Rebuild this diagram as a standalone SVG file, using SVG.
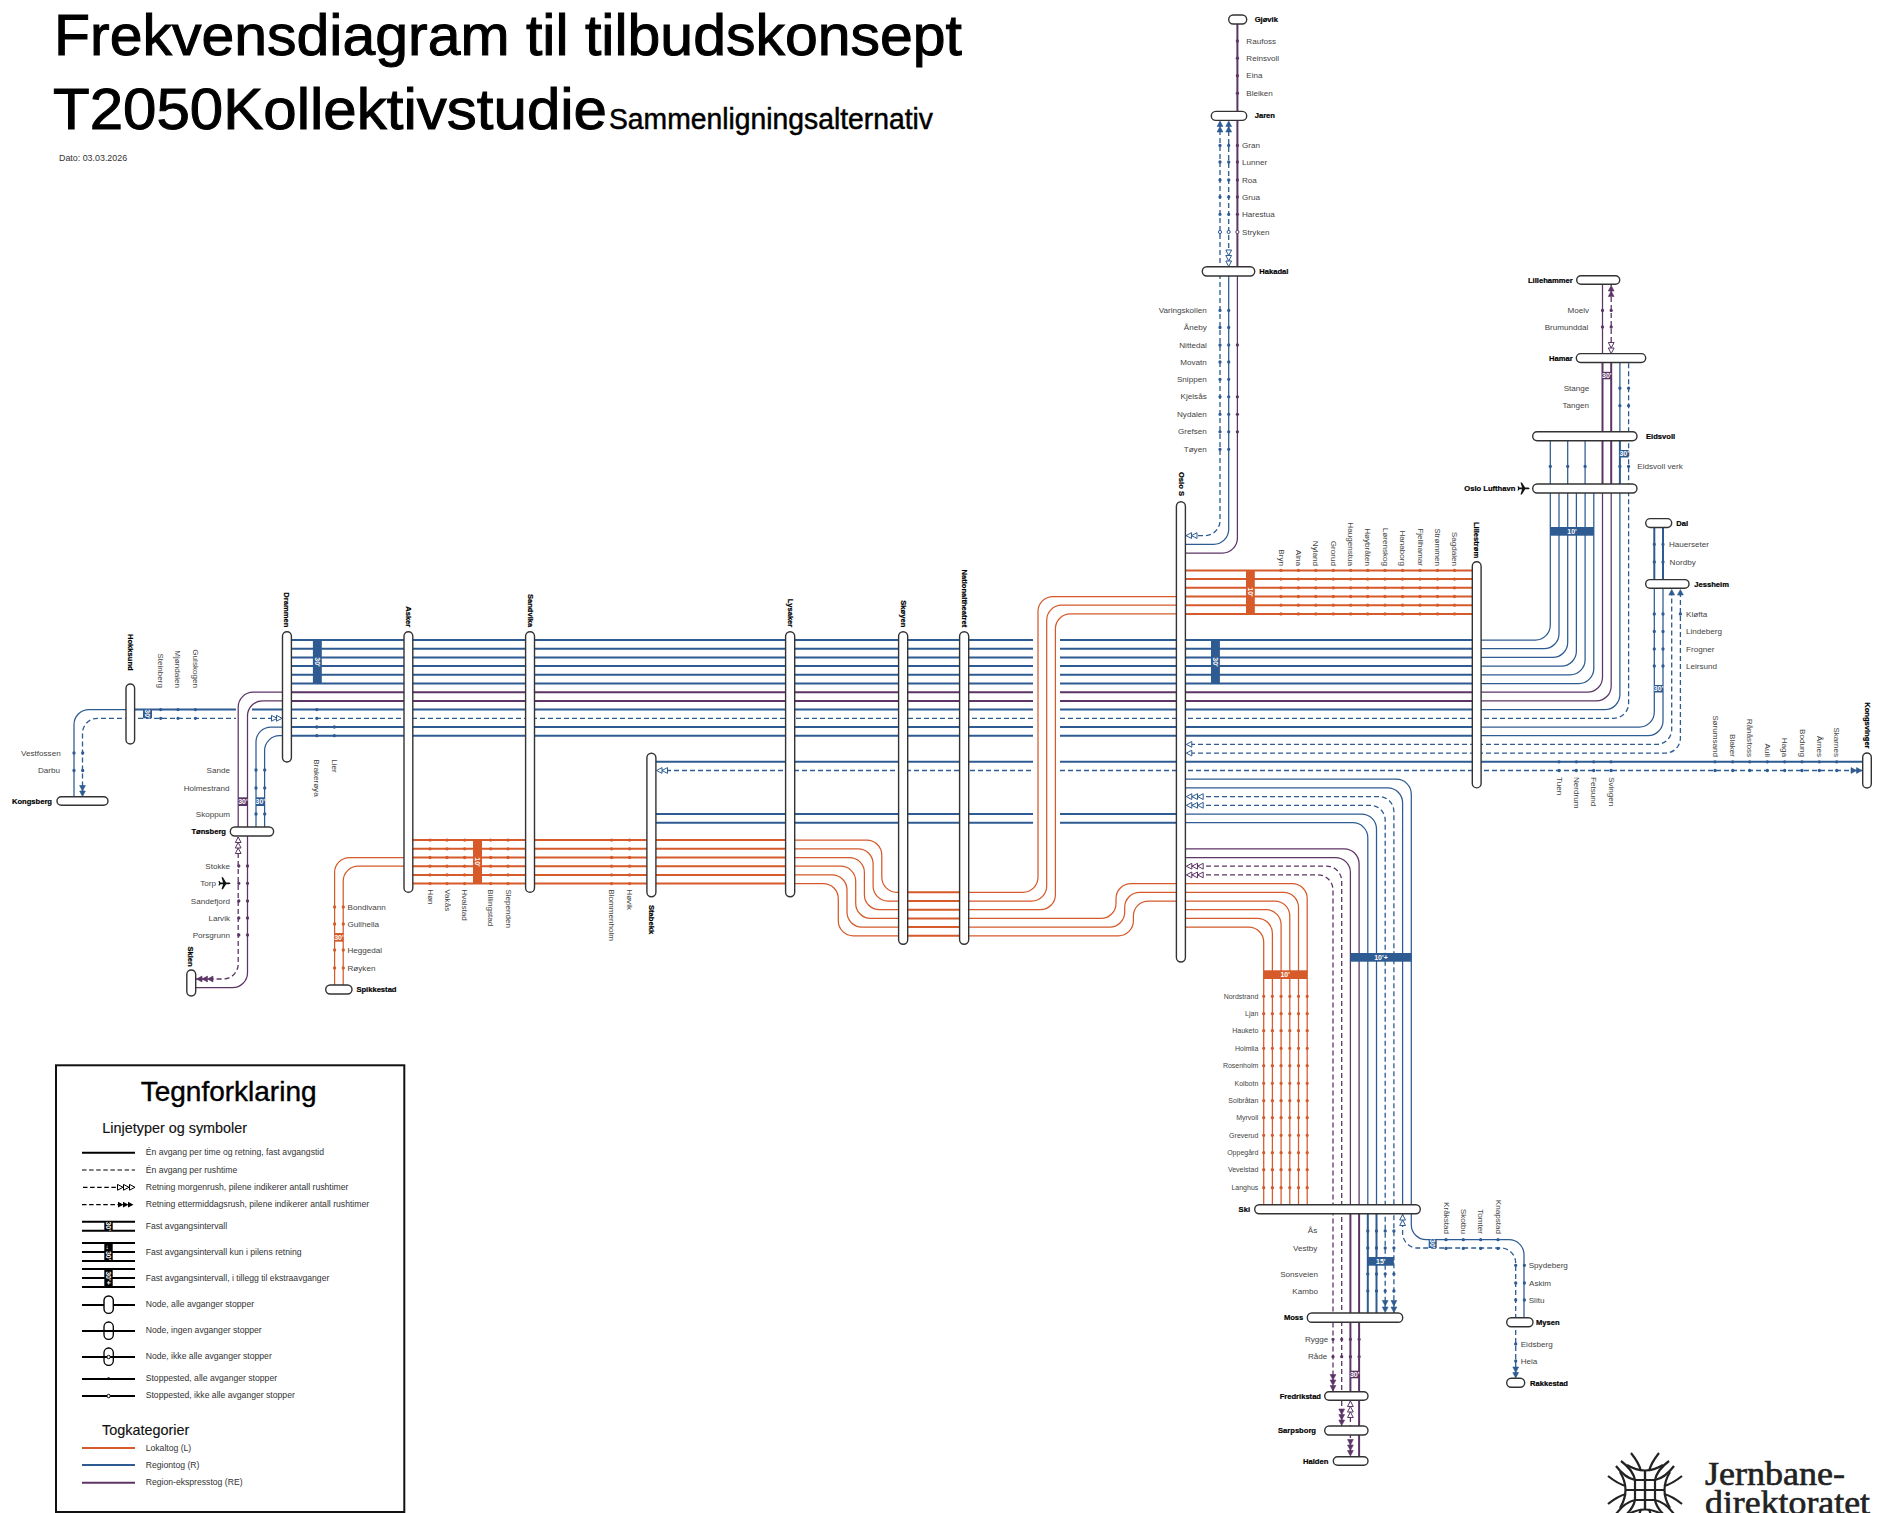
<svg xmlns="http://www.w3.org/2000/svg" width="1886" height="1513" viewBox="0 0 1886 1513">
<style>
text{font-family:"Liberation Sans",Arial,sans-serif;dominant-baseline:central}
.l{font-size:8.1px;fill:#444}
.l7{font-size:7px;fill:#444}
.b{font-size:7.6px;font-weight:700;fill:#000;stroke:#000;stroke-width:.2}
.e{text-anchor:end}
.m{text-anchor:middle}
.t{font-size:7px;font-weight:700;fill:#fff;text-anchor:middle}
.lg{font-size:8.65px;fill:#333}
.h{font-size:14.4px;fill:#111;stroke:#111;stroke-width:.15}
.ttl{font-size:58px;fill:#000;dominant-baseline:auto;stroke:#000;stroke-width:1}
.n{fill:#fff;stroke:#333;stroke-width:1.4}
.B{stroke:#2e5b91}.P{stroke:#5c3566}.O{stroke:#d65a2a}
.w{stroke-width:2;fill:none}
.s{stroke-width:1.25;fill:none}
.d{stroke-width:1.3;fill:none;stroke-dasharray:5 3}
.dB,.dP,.dO{stroke-width:3.3;stroke-linecap:round;fill:none}
.dB{stroke:#2e5b91}.dP{stroke:#5c3566}.dO{stroke:#d65a2a}
.oB,.oP{fill:#fff;stroke-width:1}
.oB{stroke:#2e5b91}.oP{stroke:#5c3566}
.aB{fill:#2e5b91;stroke:#2e5b91;stroke-width:.6}
.aP{fill:#5c3566;stroke:#5c3566;stroke-width:.6}
.hB{fill:#fff;stroke:#2e5b91;stroke-width:1}
.hP{fill:#fff;stroke:#5c3566;stroke-width:1}
.fB{fill:#2e5b91}.fP{fill:#5c3566}.fO{fill:#d65a2a}
.k{stroke:#000;stroke-width:2;fill:none}
</style>
<defs>
<path id="a" d="M0 0L-5.5 -2.9V2.9Z"/>
<path id="v2" d="M0 0h0m0 8.7h0"/>
<path id="v4" d="M0 0h0m0 8.7h0m0 8.7h0m0 8.7h0"/>
<path id="v6" d="M0 0h0m0 8.7h0m0 8.7h0m0 8.7h0m0 8.7h0m0 8.7h0"/>
<path id="h2" d="M0 0h0m8.7 0h0"/>
<path id="h4" d="M0 0h0m8.7 0h0m8.7 0h0m8.7 0h0"/>
<path id="h6" d="M0 0h0m8.7 0h0m8.7 0h0m8.7 0h0m8.7 0h0m8.7 0h0"/>
<path id="plane" d="M6 0C6 -.7 5 -.9 4 -.9H1.6L-1.6 -6H-3L-1.4 -.9H-4L-5 -2.2H-6L-5.4 0L-6 2.2H-5L-4 .9H-1.4L-3 6H-1.6L1.6 .9H4C5 .9 6 .7 6 0Z"/>
</defs>
<rect width="1886" height="1513" fill="#fff"/>

<g id="title">
<text class="ttl" x="54" y="55" textLength="908" lengthAdjust="spacingAndGlyphs">Frekvensdiagram til tilbudskonsept</text>
<text class="ttl" x="53" y="129" textLength="554" lengthAdjust="spacingAndGlyphs">T2050Kollektivstudie</text>
<text class="ttl" x="609" y="129" style="font-size:29px;stroke-width:.5" textLength="324" lengthAdjust="spacingAndGlyphs">Sammenligningsalternativ</text>
<text x="59" y="158" style="font-size:8.9px;fill:#333">Dato: 03.03.2026</text>
</g>

<g id="connectors">
<path class="w B" d="M287 640H1033M1060 640H1476M287 648.7H1033M1060 648.7H1476M287 657.4H1033M1060 657.4H1476M287 666.1H1033M1060 666.1H1476M287 674.8H1033M1060 674.8H1476M287 683.5H1033M1060 683.5H1476"/>
<path class="w P" d="M287 692.2H1033M1060 692.2H1476M287 700.9H1033M1060 700.9H1476"/>
<path class="w B" d="M130 709.6H236M252 709.6H1033M1060 709.6H1476M287 727H1033M1060 727H1476M287 735.7H1033M1060 735.7H1476"/>
<path class="d B" d="M130 718.3H236M252 718.3H1033M1060 718.3H1476"/>
<path class="w B" d="M650 761.8H1033M1060 761.8H1867M650 814H1033M1060 814H1180M650 822.7H1033M1060 822.7H1180"/>
<path class="d B" d="M650 770.5H1033M1060 770.5H1867"/>
<path class="s B" d="M1476 640H1535.3A15 15 0 0 0 1550.3 625V436M1476 648.7H1544A15 15 0 0 0 1559 633.7V488M1476 657.4H1552.7A15 15 0 0 0 1567.7 642.4V436M1476 666.1H1561.4A15 15 0 0 0 1576.4 651.1V488M1476 674.8H1570.1A15 15 0 0 0 1585.1 659.8V436M1476 683.5H1578.8A15 15 0 0 0 1593.8 668.5V488"/>
<path class="s P" d="M1476 692.2H1587.5A15 15 0 0 0 1602.5 677.2V488M1476 700.9H1596.2A15 15 0 0 0 1611.2 685.9V488"/>
<path class="s B" d="M1476 709.6H1604.9A15 15 0 0 0 1619.9 694.6V488"/>
<path class="d B" d="M1476 718.3H1613.6A15 15 0 0 0 1628.6 703.3V358"/>
<path class="s B" d="M1476 727H1639.3A15 15 0 0 0 1654.3 712V584M1476 735.7H1648A15 15 0 0 0 1663 720.7V584"/>
<path class="d B" d="M1190 744.4H1656.7A15 15 0 0 0 1671.7 729.4V590M1190 753.1H1665.4A15 15 0 0 0 1680.4 738.1V590"/>
<path class="w P" d="M1602.5 488V358M1611.2 488V358"/>
<path class="w B" d="M1619.9 488V436"/>
<path class="s B" d="M1619.9 436V358"/>
<path class="s P" d="M1602.5 358V280"/>
<path class="d P" d="M1611.2 358V285"/>
<path class="w B" d="M1654.3 584V523M1663 584V523"/>
<path class="s B" d="M130 709.6H89A15 15 0 0 0 74 724.6V800"/>
<path class="d B" d="M130 718.3H97.5A15 15 0 0 0 82.5 733.3V797"/>
<path class="s P" d="M287 692.2H253.2A15 15 0 0 0 238.2 707.2V832M287 700.9H262.5A15 15 0 0 0 247.5 715.9V972.7A15 15 0 0 1 232.5 987.7H191"/>
<path class="d P" d="M238.2 837V964A15 15 0 0 1 223.2 979H196"/>
<path class="s B" d="M287 727H271A15 15 0 0 0 256 742V832M287 735.7H279.6A15 15 0 0 0 264.6 750.7V832"/>
<path class="w O" d="M408 840.1H790M408 848.8H790M408 857.5H790M408 866.2H790M408 874.9H790M408 883.6H790"/>
<path class="s O" d="M408 857.5H349.6A15 15 0 0 0 334.6 872.5V990M408 866.2H358.2A15 15 0 0 0 343.2 881.2V990"/>
<path class="s O" d="M790 840.1H866.8A15 15 0 0 1 881.8 855.1V877.3A15 15 0 0 0 896.8 892.3H903M963 892.3H1023A15 15 0 0 0 1038 877.3V611.5A15 15 0 0 1 1053 596.5H1180M790 848.8H858.1A15 15 0 0 1 873.1 863.8V886A15 15 0 0 0 888.1 901H903M963 901H1031.7A15 15 0 0 0 1046.7 886V620.2A15 15 0 0 1 1061.7 605.2H1180M790 857.5H849.4A15 15 0 0 1 864.4 872.5V894.7A15 15 0 0 0 879.4 909.7H903M963 909.7H1040.4A15 15 0 0 0 1055.4 894.7V628.9A15 15 0 0 1 1070.4 613.9H1180M790 866.2H840.7A15 15 0 0 1 855.7 881.2V903.4A15 15 0 0 0 870.7 918.4H903M963 918.4H1101A15 15 0 0 0 1116 903.4V898.6A15 15 0 0 1 1131 883.6H1180M790 874.9H832A15 15 0 0 1 847 889.9V912.1A15 15 0 0 0 862 927.1H903M963 927.1H1109.7A15 15 0 0 0 1124.7 912.1V907.3A15 15 0 0 1 1139.7 892.3H1180M790 883.6H823.3A15 15 0 0 1 838.3 898.6V920.8A15 15 0 0 0 853.3 935.8H903M963 935.8H1118.4A15 15 0 0 0 1133.4 920.8V916A15 15 0 0 1 1148.4 901H1180"/>
<path class="w O" d="M903 892.3H963M903 901H963M903 909.7H963M903 918.4H963M903 927.1H963M903 935.8H963"/>
<path class="w O" d="M1181 570.4H1476M1181 579.1H1476M1181 587.8H1476M1181 596.5H1476M1181 605.2H1476M1181 613.9H1476"/>
<path class="d B" d="M1190 535.6H1205A15 15 0 0 0 1220 520.6V116"/>
<path class="s B" d="M1181 544.3H1213.7A15 15 0 0 0 1228.7 529.3V272"/>
<path class="d B" d="M1228.7 272V116"/>
<path class="s P" d="M1181 553H1222.4A15 15 0 0 0 1237.4 538V272"/>
<path class="w P" d="M1237.4 272V20"/>
<path class="s O" d="M1181 883.6H1292.2A15 15 0 0 1 1307.2 898.6V1209M1181 892.3H1283.5A15 15 0 0 1 1298.5 907.3V1209M1181 901H1274.8A15 15 0 0 1 1289.8 916V1209M1181 909.7H1266.1A15 15 0 0 1 1281.1 924.7V1209M1181 918.4H1257.4A15 15 0 0 1 1272.4 933.4V1209M1181 927.1H1248.7A15 15 0 0 1 1263.7 942.1V1209"/>
<path class="s B" d="M1181 779.2H1396.3A15 15 0 0 1 1411.3 794.2V1224.7A15 15 0 0 0 1426.3 1239.7H1509A15 15 0 0 1 1524 1254.7V1322M1181 787.9H1387.6A15 15 0 0 1 1402.6 802.9V1209M1181 814H1361.5A15 15 0 0 1 1376.5 829V1209M1181 822.7H1352.8A15 15 0 0 1 1367.8 837.7V1209"/>
<path class="d B" d="M1190 796.6H1378.9A15 15 0 0 1 1393.9 811.6V1313M1190 805.3H1370.2A15 15 0 0 1 1385.2 820.3V1313"/>
<path class="d B" d="M1402.6 1214V1233A15 15 0 0 0 1417.6 1248H1500.7A15 15 0 0 1 1515.7 1263V1379"/>
<path class="w B" d="M1376.5 1209V1317M1367.8 1209V1317"/>
<path class="s P" d="M1181 848.8H1344.1A15 15 0 0 1 1359.1 863.8V1209M1181 857.5H1335.4A15 15 0 0 1 1350.4 872.5V1209"/>
<path class="d P" d="M1190 866.2H1326.7A15 15 0 0 1 1341.7 881.2V1426M1190 874.9H1318A15 15 0 0 1 1333 889.9V1391M1350.4 1401V1457"/>
<path class="w P" d="M1359.1 1209V1461M1350.4 1209V1396"/>
</g>

<g id="intervals">
<rect class="fB" x="143" y="709.6" width="9" height="8.7"/><text class="t" transform="rotate(90 147.5 714)" x="147.5" y="714">30'</text>
<rect class="fB" x="312.9" y="640" width="8.9" height="43.5"/><text class="t" transform="rotate(90 317.4 662)" x="317.4" y="662">30'</text>
<rect class="fB" x="1211" y="640" width="8.9" height="43.5"/><text class="t" transform="rotate(90 1215.5 662)" x="1215.5" y="662">30'</text>
<rect class="fO" x="1246" y="570.4" width="8.8" height="43.5"/><text class="t" transform="rotate(90 1250.4 592)" x="1250.4" y="592">10'</text>
<rect class="fO" x="473" y="840.1" width="9" height="43.5"/><text class="t" transform="rotate(90 477.5 862)" x="477.5" y="862">10'</text>
<rect class="fP" x="238.2" y="797.3" width="9.3" height="8.7"/><text class="t" x="242.9" y="801.6">30'</text>
<rect class="fB" x="256" y="797.3" width="8.6" height="8.7"/><text class="t" x="260.3" y="801.6">30'</text>
<rect class="fO" x="334.6" y="933" width="8.6" height="8.7"/><text class="t" x="338.9" y="937.3">30'</text>
<rect class="fB" x="1550.3" y="527" width="43.5" height="8.7"/><text class="t" x="1572" y="531.3">10'</text>
<rect class="fB" x="1619.9" y="450" width="8.7" height="7.5"/><text class="t" x="1624.2" y="453.7">30'</text>
<rect class="fP" x="1602.5" y="371.8" width="8.7" height="7.5"/><text class="t" x="1606.8" y="375.5">30'</text>
<rect class="fB" x="1654.3" y="685" width="8.7" height="7.5"/><text class="t" x="1658.6" y="688.7">30'</text>
<rect class="fO" x="1263.2" y="970.3" width="44" height="8.7"/><text class="t" x="1285.2" y="974.6">10'</text>
<rect class="fB" x="1350.4" y="953" width="61" height="8.7"/><text class="t" x="1381" y="957.3">10'+</text>
<rect class="fB" x="1367.8" y="1257" width="26.1" height="8.7"/><text class="t" x="1380.8" y="1261.3">15'</text>
<rect class="fB" x="1428.7" y="1239.7" width="8" height="8.3"/><text class="t" transform="rotate(90 1432.7 1243.8)" x="1432.7" y="1243.8">30'</text>
<rect class="fP" x="1350.4" y="1370.7" width="8.7" height="7.6"/><text class="t" x="1354.7" y="1374.5">30'</text>
</g>

<g id="arrows">
<use href="#a" class="hB" transform="translate(282 718.3)"/><use href="#a" class="hB" transform="translate(277 718.3)"/>
<use href="#a" class="aB" transform="translate(82.5 796.5) rotate(90)"/><use href="#a" class="aB" transform="translate(82.5 791) rotate(90)"/>
<use href="#a" class="hP" transform="translate(238.2 837) rotate(-90)"/><use href="#a" class="hP" transform="translate(238.2 842.5) rotate(-90)"/><use href="#a" class="hP" transform="translate(238.2 848) rotate(-90)"/>
<use href="#a" class="aP" transform="translate(196.5 979) rotate(180)"/><use href="#a" class="aP" transform="translate(202 979) rotate(180)"/><use href="#a" class="aP" transform="translate(207.5 979) rotate(180)"/>
<use href="#a" class="hB" transform="translate(656.5 770.5) rotate(180)"/><use href="#a" class="hB" transform="translate(662 770.5) rotate(180)"/>
<use href="#a" class="hB" transform="translate(1186 535.6) rotate(180)"/><use href="#a" class="hB" transform="translate(1191.5 535.6) rotate(180)"/>
<use href="#a" class="hB" transform="translate(1186.3 744.4) rotate(180)"/><use href="#a" class="hB" transform="translate(1186.3 753.1) rotate(180)"/>
<use href="#a" class="hB" transform="translate(1186.3 796.6) rotate(180)"/><use href="#a" class="hB" transform="translate(1192 796.6) rotate(180)"/><use href="#a" class="hB" transform="translate(1197.7 796.6) rotate(180)"/>
<use href="#a" class="hB" transform="translate(1186.3 805.3) rotate(180)"/><use href="#a" class="hB" transform="translate(1192 805.3) rotate(180)"/><use href="#a" class="hB" transform="translate(1197.7 805.3) rotate(180)"/>
<use href="#a" class="hP" transform="translate(1186.3 866.2) rotate(180)"/><use href="#a" class="hP" transform="translate(1192 866.2) rotate(180)"/><use href="#a" class="hP" transform="translate(1197.7 866.2) rotate(180)"/>
<use href="#a" class="hP" transform="translate(1186.3 874.9) rotate(180)"/><use href="#a" class="hP" transform="translate(1192 874.9) rotate(180)"/><use href="#a" class="hP" transform="translate(1197.7 874.9) rotate(180)"/>
<use href="#a" class="aB" transform="translate(1220 121) rotate(-90)"/><use href="#a" class="aB" transform="translate(1220 126.5) rotate(-90)"/>
<use href="#a" class="aB" transform="translate(1228.7 121) rotate(-90)"/><use href="#a" class="aB" transform="translate(1228.7 126.5) rotate(-90)"/>
<use href="#a" class="hB" transform="translate(1228.7 266.5) rotate(90)"/><use href="#a" class="hB" transform="translate(1228.7 261) rotate(90)"/><use href="#a" class="hB" transform="translate(1228.7 255.5) rotate(90)"/>
<use href="#a" class="aP" transform="translate(1611.2 285.5) rotate(-90)"/><use href="#a" class="aP" transform="translate(1611.2 291) rotate(-90)"/>
<use href="#a" class="hP" transform="translate(1611.2 353.5) rotate(90)"/><use href="#a" class="hP" transform="translate(1611.2 348) rotate(90)"/>
<use href="#a" class="aB" transform="translate(1671.7 589.5) rotate(-90)"/><use href="#a" class="aB" transform="translate(1680.4 589.5) rotate(-90)"/>
<use href="#a" class="aB" transform="translate(1862 770.5)"/><use href="#a" class="aB" transform="translate(1856.5 770.5)"/>
<use href="#a" class="hB" transform="translate(1402.6 1214.5) rotate(-90)"/><use href="#a" class="hB" transform="translate(1402.6 1220) rotate(-90)"/>
<use href="#a" class="aB" transform="translate(1385.2 1312.5) rotate(90)"/><use href="#a" class="aB" transform="translate(1385.2 1306) rotate(90)"/>
<use href="#a" class="aB" transform="translate(1393.9 1312.5) rotate(90)"/><use href="#a" class="aB" transform="translate(1393.9 1306) rotate(90)"/>
<use href="#a" class="aP" transform="translate(1333 1391) rotate(90)"/><use href="#a" class="aP" transform="translate(1333 1385.5) rotate(90)"/><use href="#a" class="aP" transform="translate(1333 1380) rotate(90)"/>
<use href="#a" class="aP" transform="translate(1341.7 1425.5) rotate(90)"/><use href="#a" class="aP" transform="translate(1341.7 1420) rotate(90)"/><use href="#a" class="aP" transform="translate(1341.7 1414.5) rotate(90)"/>
<use href="#a" class="hP" transform="translate(1350.4 1401) rotate(-90)"/><use href="#a" class="hP" transform="translate(1350.4 1406.5) rotate(-90)"/><use href="#a" class="hP" transform="translate(1350.4 1412) rotate(-90)"/>
<use href="#a" class="aP" transform="translate(1350.4 1456) rotate(90)"/><use href="#a" class="aP" transform="translate(1350.4 1450.5) rotate(90)"/><use href="#a" class="aP" transform="translate(1350.4 1445) rotate(90)"/>
<use href="#a" class="aB" transform="translate(1515.7 1378) rotate(90)"/><use href="#a" class="aB" transform="translate(1515.7 1372.5) rotate(90)"/>
</g>

<g id="stops">
<g id="s-vestfossen"><use href="#h2" x="74" y="753" class="dB"/><text class="l e" x="60.7" y="753">Vestfossen</text></g>
<g id="s-darbu"><use href="#h2" x="74" y="770.5" class="dB"/><text class="l e" x="60" y="770.5">Darbu</text></g>
<g id="s-steinberg"><use href="#v2" x="160.7" y="709.6" class="dB"/><text class="l e" transform="rotate(90 160.4 688)" x="160.4" y="688">Steinberg</text></g>
<g id="s-mjondalen"><use href="#v2" x="178" y="709.6" class="dB"/><text class="l e" transform="rotate(90 177 688)" x="177" y="688">Mjøndalen</text></g>
<g id="s-gulskogen"><use href="#v2" x="195.4" y="709.6" class="dB"/><text class="l e" transform="rotate(90 195 688)" x="195" y="688">Gulskogen</text></g>
<g id="s-brakeroya"><use href="#v4" x="316.8" y="709.6" class="dB"/><text class="l" transform="rotate(90 316 759.3)" x="316" y="759.3">Brakerøya</text></g>
<g id="s-lier"><use href="#v2" x="334.3" y="727" class="dB"/><text class="l" transform="rotate(90 334 759.3)" x="334" y="759.3">Lier</text></g>
<g id="s-sande"><use href="#h2" x="256" y="770" class="dB"/><text class="l e" x="230" y="770">Sande</text></g>
<g id="s-holmestrand"><use href="#h2" x="256" y="788" class="dB"/><text class="l e" x="229.6" y="788">Holmestrand</text></g>
<g id="s-skoppum"><use href="#h2" x="256" y="814" class="dB"/><text class="l e" x="230" y="814">Skoppum</text></g>
<g id="s-stokke"><use href="#h2" x="238.8" y="866" class="dP"/><text class="l e" x="230" y="866">Stokke</text></g>
<g id="s-torp"><use href="#h2" x="238.8" y="883.3" class="dP"/><text class="l e" x="216" y="883.3">Torp</text><use href="#plane" x="224.5" y="883.3" fill="#111"/></g>
<g id="s-sandefjord"><use href="#h2" x="238.8" y="901" class="dP"/><text class="l e" x="230" y="901">Sandefjord</text></g>
<g id="s-larvik"><use href="#h2" x="238.8" y="918" class="dP"/><text class="l e" x="230" y="918">Larvik</text></g>
<g id="s-porsgrunn"><use href="#h2" x="238.8" y="935" class="dP"/><text class="l e" x="230" y="935">Porsgrunn</text></g>
<g id="s-bondivann"><use href="#h2" x="334.6" y="907" class="dO"/><text class="l" x="347.5" y="907">Bondivann</text></g>
<g id="s-gullhella"><use href="#h2" x="334.6" y="924" class="dO"/><text class="l" x="347.5" y="924">Gullhella</text></g>
<g id="s-heggedal"><use href="#h2" x="334.6" y="950" class="dO"/><text class="l" x="347.5" y="950">Heggedal</text></g>
<g id="s-royken"><use href="#h2" x="334.6" y="968" class="dO"/><text class="l" x="347.5" y="968">Røyken</text></g>
<g id="s-hon"><use href="#v6" x="430" y="840.1" class="dO"/><text class="l" transform="rotate(90 430 889.3)" x="430" y="889.3">Høn</text></g>
<g id="s-vakas"><use href="#v6" x="447" y="840.1" class="dO"/><text class="l" transform="rotate(90 447 889.3)" x="447" y="889.3">Vakås</text></g>
<g id="s-hvalstad"><use href="#v6" x="464.6" y="840.1" class="dO"/><text class="l" transform="rotate(90 464.6 889.3)" x="464.6" y="889.3">Hvalstad</text></g>
<g id="s-billingstad"><use href="#v6" x="490.7" y="840.1" class="dO"/><text class="l" transform="rotate(90 490.7 889.3)" x="490.7" y="889.3">Billingstad</text></g>
<g id="s-slependen"><use href="#v6" x="508" y="840.1" class="dO"/><text class="l" transform="rotate(90 508 889.3)" x="508" y="889.3">Slependen</text></g>
<g id="s-blommenholm"><use href="#v6" x="611.6" y="840.1" class="dO"/><text class="l" transform="rotate(90 611.6 889.3)" x="611.6" y="889.3">Blommenholm</text></g>
<g id="s-hovik"><use href="#v6" x="629.6" y="840.1" class="dO"/><text class="l" transform="rotate(90 629.6 889.3)" x="629.6" y="889.3">Høvik</text></g>
<g id="s-bryn"><use href="#v6" x="1281" y="570.4" class="dO"/><text class="l e" transform="rotate(90 1281 566)" x="1281" y="566">Bryn</text></g>
<g id="s-alna"><use href="#v6" x="1298.4" y="570.4" class="dO"/><text class="l e" transform="rotate(90 1298.4 566)" x="1298.4" y="566">Alna</text></g>
<g id="s-nyland"><use href="#v6" x="1315.8" y="570.4" class="dO"/><text class="l e" transform="rotate(90 1315.8 566)" x="1315.8" y="566">Nyland</text></g>
<g id="s-grorud"><use href="#v6" x="1333.3" y="570.4" class="dO"/><text class="l e" transform="rotate(90 1333.3 566)" x="1333.3" y="566">Grorud</text></g>
<g id="s-haugenstua"><use href="#v6" x="1350.7" y="570.4" class="dO"/><text class="l e" transform="rotate(90 1350.7 566)" x="1350.7" y="566">Haugenstua</text></g>
<g id="s-hoybraten"><use href="#v6" x="1367.7" y="570.4" class="dO"/><text class="l e" transform="rotate(90 1367.7 566)" x="1367.7" y="566">Høybråten</text></g>
<g id="s-lorenskog"><use href="#v6" x="1385" y="570.4" class="dO"/><text class="l e" transform="rotate(90 1385 566)" x="1385" y="566">Lørenskog</text></g>
<g id="s-hanaborg"><use href="#v6" x="1402.6" y="570.4" class="dO"/><text class="l e" transform="rotate(90 1402.6 566)" x="1402.6" y="566">Hanaborg</text></g>
<g id="s-fjellhamar"><use href="#v6" x="1420" y="570.4" class="dO"/><text class="l e" transform="rotate(90 1420 566)" x="1420" y="566">Fjellhamar</text></g>
<g id="s-strommen"><use href="#v6" x="1437.5" y="570.4" class="dO"/><text class="l e" transform="rotate(90 1437.5 566)" x="1437.5" y="566">Strømmen</text></g>
<g id="s-sagdalen"><use href="#v6" x="1454.5" y="570.4" class="dO"/><text class="l e" transform="rotate(90 1454.5 566)" x="1454.5" y="566">Sagdalen</text></g>
<g id="s-tuen"><use href="#v2" x="1559" y="761.8" class="dB"/><text class="l" transform="rotate(90 1559 777)" x="1559" y="777">Tuen</text></g>
<g id="s-nerdrum"><use href="#v2" x="1576.3" y="761.8" class="dB"/><text class="l" transform="rotate(90 1576.3 777)" x="1576.3" y="777">Nerdrum</text></g>
<g id="s-fetsund"><use href="#v2" x="1593.7" y="761.8" class="dB"/><text class="l" transform="rotate(90 1593.7 777)" x="1593.7" y="777">Fetsund</text></g>
<g id="s-svingen"><use href="#v2" x="1611" y="761.8" class="dB"/><text class="l" transform="rotate(90 1611 777)" x="1611" y="777">Svingen</text></g>
<g id="s-sorumsand"><use href="#v2" x="1715" y="761.8" class="dB"/><text class="l e" transform="rotate(90 1715 757)" x="1715" y="757">Sørumsand</text></g>
<g id="s-blaker"><use href="#v2" x="1732.7" y="761.8" class="dB"/><text class="l e" transform="rotate(90 1732.7 757)" x="1732.7" y="757">Blaker</text></g>
<g id="s-ranasfoss"><use href="#v2" x="1749.7" y="761.8" class="dB"/><text class="l e" transform="rotate(90 1749.7 757)" x="1749.7" y="757">Rånåsfoss</text></g>
<g id="s-auli"><use href="#v2" x="1767.3" y="761.8" class="dB"/><text class="l e" transform="rotate(90 1767.3 757)" x="1767.3" y="757">Auli</text></g>
<g id="s-haga"><use href="#v2" x="1784.7" y="761.8" class="dB"/><text class="l e" transform="rotate(90 1784.7 757)" x="1784.7" y="757">Haga</text></g>
<g id="s-bodung"><use href="#v2" x="1802" y="761.8" class="dB"/><text class="l e" transform="rotate(90 1802 757)" x="1802" y="757">Bodung</text></g>
<g id="s-arnes"><use href="#v2" x="1819.3" y="761.8" class="dB"/><text class="l e" transform="rotate(90 1819.3 757)" x="1819.3" y="757">Årnes</text></g>
<g id="s-skarnes"><use href="#v2" x="1836.7" y="761.8" class="dB"/><text class="l e" transform="rotate(90 1836.7 757)" x="1836.7" y="757">Skarnes</text></g>
<g id="s-moelv"><use href="#h2" x="1602.5" y="310.4" class="dP"/><text class="l e" x="1589" y="310.4">Moelv</text></g>
<g id="s-brumunddal"><use href="#h2" x="1602.5" y="327" class="dP"/><text class="l e" x="1588.3" y="327">Brumunddal</text></g>
<g id="s-stange"><use href="#h2" x="1619.9" y="388.2" class="dB"/><text class="l e" x="1589.3" y="388">Stange</text></g>
<g id="s-tangen"><use href="#h2" x="1619.9" y="405.7" class="dB"/><text class="l e" x="1589" y="405.5">Tangen</text></g>
<g id="s-eidsvollverk"><path class="dB" d="M1550.3 466.4h0m17.4 0h0m17.4 0h0m34.8 0h0m8.7 0h0"/><text class="l" x="1637.3" y="466">Eidsvoll verk</text></g>
<g id="s-hauerseter"><use href="#h2" x="1654.3" y="544.3" class="dB"/><text class="l" x="1669" y="544.3">Hauerseter</text></g>
<g id="s-nordby"><use href="#h2" x="1654.3" y="562" class="dB"/><text class="l" x="1669.6" y="562">Nordby</text></g>
<g id="s-klofta"><path class="dB" d="M1654.3 614h0m8.7 0h0m17.4 0h0"/><text class="l" x="1686" y="614">Kløfta</text></g>
<g id="s-lindeberg"><use href="#h2" x="1654.3" y="631.5" class="dB"/><text class="l" x="1686" y="631">Lindeberg</text></g>
<g id="s-frogner"><use href="#h2" x="1654.3" y="649" class="dB"/><text class="l" x="1686" y="649">Frogner</text></g>
<g id="s-leirsund"><use href="#h2" x="1654.3" y="666" class="dB"/><text class="l" x="1686" y="666">Leirsund</text></g>
<g id="s-raufoss"><path class="dP" d="M1237.4 41h0"/><text class="l" x="1246.3" y="41">Raufoss</text></g>
<g id="s-reinsvoll"><path class="dP" d="M1237.4 58.2h0"/><text class="l" x="1246.3" y="58.2">Reinsvoll</text></g>
<g id="s-eina"><path class="dP" d="M1237.4 75.7h0"/><text class="l" x="1246.3" y="75.7">Eina</text></g>
<g id="s-bleiken"><path class="dP" d="M1237.4 93.2h0"/><text class="l" x="1246.3" y="93.2">Bleiken</text></g>
<g id="s-gran"><use href="#h2" x="1220" y="145.4" class="dB"/><path class="dP" d="M1237.4 145.4h0"/><text class="l" x="1242" y="145.4">Gran</text></g>
<g id="s-lunner"><use href="#h2" x="1220" y="162" class="dB"/><path class="dP" d="M1237.4 162h0"/><text class="l" x="1242" y="162">Lunner</text></g>
<g id="s-roa"><use href="#h2" x="1220" y="180" class="dB"/><path class="dP" d="M1237.4 180h0"/><text class="l" x="1242" y="180">Roa</text></g>
<g id="s-grua"><use href="#h2" x="1220" y="197" class="dB"/><path class="dP" d="M1237.4 197h0"/><text class="l" x="1242" y="197">Grua</text></g>
<g id="s-harestua"><use href="#h2" x="1220" y="214.3" class="dB"/><path class="dP" d="M1237.4 214.3h0"/><text class="l" x="1242" y="214.3">Harestua</text></g>
<g id="s-stryken"><circle class="oB" cx="1220" cy="232" r="1.6"/><circle class="oB" cx="1228.7" cy="232" r="1.6"/><circle class="oP" cx="1237.4" cy="232" r="1.6"/><text class="l" x="1242" y="232">Stryken</text></g>
<g id="s-varingskollen"><use href="#h2" x="1220" y="310.4" class="dB"/><text class="l e" x="1206.7" y="310.4">Varingskollen</text></g>
<g id="s-aneby"><use href="#h2" x="1220" y="327.5" class="dB"/><text class="l e" x="1206.7" y="327.5">Åneby</text></g>
<g id="s-nittedal"><use href="#h2" x="1220" y="345" class="dB"/><path class="dP" d="M1237.4 345h0"/><text class="l e" x="1206.7" y="345">Nittedal</text></g>
<g id="s-movatn"><use href="#h2" x="1220" y="362" class="dB"/><text class="l e" x="1206.7" y="362">Movatn</text></g>
<g id="s-snippen"><use href="#h2" x="1220" y="379.3" class="dB"/><text class="l e" x="1206.7" y="379.3">Snippen</text></g>
<g id="s-kjelsas"><use href="#h2" x="1220" y="396.8" class="dB"/><path class="dP" d="M1237.4 396.8h0"/><text class="l e" x="1206.7" y="396.8">Kjelsås</text></g>
<g id="s-nydalen"><use href="#h2" x="1220" y="414.3" class="dB"/><path class="dP" d="M1237.4 414.3h0"/><text class="l e" x="1206.7" y="414.3">Nydalen</text></g>
<g id="s-grefsen"><use href="#h2" x="1220" y="431.8" class="dB"/><path class="dP" d="M1237.4 431.8h0"/><text class="l e" x="1206.7" y="431.8">Grefsen</text></g>
<g id="s-toyen"><use href="#h2" x="1220" y="449.3" class="dB"/><text class="l e" x="1206.7" y="449.3">Tøyen</text></g>
<g id="s-nordstrand"><use href="#h6" x="1263.7" y="996.3" class="dO"/><text class="l7 e" x="1258.3" y="996.3">Nordstrand</text></g>
<g id="s-ljan"><use href="#h6" x="1263.7" y="1013.7" class="dO"/><text class="l7 e" x="1258.3" y="1013.7">Ljan</text></g>
<g id="s-hauketo"><use href="#h6" x="1263.7" y="1030.7" class="dO"/><text class="l7 e" x="1258.3" y="1030.7">Hauketo</text></g>
<g id="s-holmlia"><use href="#h6" x="1263.7" y="1048.3" class="dO"/><text class="l7 e" x="1258.3" y="1048.3">Holmlia</text></g>
<g id="s-rosenholm"><use href="#h6" x="1263.7" y="1065.7" class="dO"/><text class="l7 e" x="1258.3" y="1065.7">Rosenholm</text></g>
<g id="s-kolbotn"><use href="#h6" x="1263.7" y="1083.3" class="dO"/><text class="l7 e" x="1258.3" y="1083.3">Kolbotn</text></g>
<g id="s-solbratan"><use href="#h6" x="1263.7" y="1100.7" class="dO"/><text class="l7 e" x="1258.3" y="1100.7">Solbråtan</text></g>
<g id="s-myrvoll"><use href="#h6" x="1263.7" y="1117.7" class="dO"/><text class="l7 e" x="1258.3" y="1117.7">Myrvoll</text></g>
<g id="s-greverud"><use href="#h6" x="1263.7" y="1135.3" class="dO"/><text class="l7 e" x="1258.3" y="1135.3">Greverud</text></g>
<g id="s-oppegard"><use href="#h6" x="1263.7" y="1152.7" class="dO"/><text class="l7 e" x="1258.3" y="1152.7">Oppegård</text></g>
<g id="s-vevelstad"><use href="#h6" x="1263.7" y="1169.7" class="dO"/><text class="l7 e" x="1258.3" y="1169.7">Vevelstad</text></g>
<g id="s-langhus"><use href="#h6" x="1263.7" y="1187.7" class="dO"/><text class="l7 e" x="1258.3" y="1187.7">Langhus</text></g>
<g id="s-as"><use href="#h4" x="1367.8" y="1231" class="dB"/><text class="l e" x="1317.3" y="1230.7">Ås</text></g>
<g id="s-vestby"><use href="#h4" x="1367.8" y="1248" class="dB"/><text class="l e" x="1317.3" y="1248">Vestby</text></g>
<g id="s-sonsveien"><use href="#h4" x="1367.8" y="1274" class="dB"/><text class="l e" x="1318" y="1274">Sonsveien</text></g>
<g id="s-kambo"><use href="#h4" x="1367.8" y="1291" class="dB"/><text class="l e" x="1318" y="1291">Kambo</text></g>
<g id="s-rygge"><use href="#h4" x="1333" y="1339.3" class="dP"/><text class="l e" x="1328.3" y="1339.3">Rygge</text></g>
<g id="s-rade"><use href="#h4" x="1333" y="1356.7" class="dP"/><text class="l e" x="1327.3" y="1356.7">Råde</text></g>
<g id="s-kraakstad"><use href="#v2" x="1446" y="1239.7" class="dB"/><text class="l e" transform="rotate(90 1446 1234)" x="1446" y="1234">Kråkstad</text></g>
<g id="s-skotbu"><use href="#v2" x="1463.3" y="1239.7" class="dB"/><text class="l e" transform="rotate(90 1463.3 1234)" x="1463.3" y="1234">Skotbu</text></g>
<g id="s-tomter"><use href="#v2" x="1480.7" y="1239.7" class="dB"/><text class="l e" transform="rotate(90 1480.7 1234)" x="1480.7" y="1234">Tomter</text></g>
<g id="s-knapstad"><use href="#v2" x="1498" y="1239.7" class="dB"/><text class="l e" transform="rotate(90 1498 1234)" x="1498" y="1234">Knapstad</text></g>
<g id="s-spydeberg"><use href="#h2" x="1515.7" y="1265.3" class="dB"/><text class="l" x="1528.7" y="1265.3">Spydeberg</text></g>
<g id="s-askim"><use href="#h2" x="1515.7" y="1283" class="dB"/><text class="l" x="1529" y="1283">Askim</text></g>
<g id="s-slitu"><use href="#h2" x="1515.7" y="1300" class="dB"/><text class="l" x="1528.7" y="1300">Slitu</text></g>
<g id="s-eidsberg"><path class="dB" d="M1515.7 1344h0"/><text class="l" x="1520.7" y="1344">Eidsberg</text></g>
<g id="s-heia"><path class="dB" d="M1515.7 1361h0"/><text class="l" x="1520.7" y="1361">Heia</text></g>
</g>

<g id="nodes">
<g id="n-kongsberg"><rect class="n" x="57" y="796.7" width="51" height="8.6" rx="4.3"/><text class="b e" x="52" y="801">Kongsberg</text></g>
<g id="n-hokksund"><rect class="n" x="126" y="684" width="8.6" height="60" rx="4.3"/><text class="b e" transform="rotate(90 130.3 670.7)" x="130.3" y="670.7">Hokksund</text></g>
<g id="n-drammen"><rect class="n" x="282.5" y="631.7" width="8.9" height="130.3" rx="4.4"/><text class="b e" transform="rotate(90 286.9 627.3)" x="286.9" y="627.3">Drammen</text></g>
<g id="n-asker"><rect class="n" x="404" y="631.7" width="8.8" height="260.6" rx="4.4"/><text class="b e" transform="rotate(90 408.4 627.3)" x="408.4" y="627.3">Asker</text></g>
<g id="n-sandvika"><rect class="n" x="525.6" y="631.7" width="8.9" height="260.6" rx="4.4"/><text class="b e" transform="rotate(90 530 627.3)" x="530" y="627.3">Sandvika</text></g>
<g id="n-stabekk"><rect class="n" x="646.9" y="753.3" width="9" height="143.4" rx="4.5"/><text class="b" transform="rotate(90 651.4 905)" x="651.4" y="905">Stabekk</text></g>
<g id="n-lysaker"><rect class="n" x="785.6" y="631.7" width="9.1" height="265" rx="4.5"/><text class="b e" transform="rotate(90 790 627.3)" x="790" y="627.3">Lysaker</text></g>
<g id="n-skoyen"><rect class="n" x="898.6" y="631.7" width="9.1" height="312.6" rx="4.5"/><text class="b e" transform="rotate(90 903.1 627.3)" x="903.1" y="627.3">Skøyen</text></g>
<g id="n-nationaltheatret"><rect class="n" x="959.6" y="631.7" width="9.1" height="312.6" rx="4.5"/><text class="b e" transform="rotate(90 964 627.3)" x="964" y="627.3">Nationaltheatret</text></g>
<g id="n-oslos"><rect class="n" x="1176.4" y="501.8" width="9" height="460.2" rx="4.5"/><text class="b e" transform="rotate(90 1181 496)" x="1181" y="496">Oslo S</text></g>
<g id="n-lillestrom"><rect class="n" x="1472.3" y="561.8" width="8.8" height="226.1" rx="4.4"/><text class="b e" transform="rotate(90 1476.7 558.2)" x="1476.7" y="558.2">Lillestrøm</text></g>
<g id="n-tonsberg"><rect class="n" x="230.3" y="827" width="43.3" height="9" rx="4.5"/><text class="b e" x="226" y="831.3">Tønsberg</text></g>
<g id="n-skien"><rect class="n" x="186.8" y="970" width="8.9" height="26" rx="4.4"/><text class="b e" transform="rotate(90 190.4 966.7)" x="190.4" y="966.7">Skien</text></g>
<g id="n-spikkestad"><rect class="n" x="325.7" y="985" width="26.3" height="9" rx="4.5"/><text class="b" x="356.4" y="989.4">Spikkestad</text></g>
<g id="n-gjovik"><rect class="n" x="1228.7" y="15" width="18" height="9" rx="4.5"/><text class="b" x="1254.7" y="19">Gjøvik</text></g>
<g id="n-jaren"><rect class="n" x="1211.3" y="111.4" width="35.4" height="9" rx="4.5"/><text class="b" x="1254.7" y="115">Jaren</text></g>
<g id="n-hakadal"><rect class="n" x="1202.3" y="266.8" width="52.4" height="9.2" rx="4.5"/><text class="b" x="1259.3" y="271">Hakadal</text></g>
<g id="n-lillehammer"><rect class="n" x="1576.7" y="275.7" width="43" height="8.6" rx="4.3"/><text class="b e" x="1572.7" y="280">Lillehammer</text></g>
<g id="n-hamar"><rect class="n" x="1576.3" y="353.6" width="69.4" height="8.9" rx="4.4"/><text class="b e" x="1572.7" y="358">Hamar</text></g>
<g id="n-eidsvoll"><rect class="n" x="1532.7" y="431.8" width="104.3" height="8.9" rx="4.4"/><text class="b" x="1646" y="436">Eidsvoll</text></g>
<g id="n-oslolufthavn"><rect class="n" x="1532.7" y="484" width="104.3" height="9" rx="4.5"/><text class="b e" x="1515.3" y="488.4">Oslo Lufthavn</text><use href="#plane" x="1523.5" y="488.4" fill="#111"/></g>
<g id="n-dal"><rect class="n" x="1645.7" y="518.6" width="26" height="8.9" rx="4.4"/><text class="b" x="1676.3" y="523">Dal</text></g>
<g id="n-jessheim"><rect class="n" x="1645.7" y="579.6" width="43.3" height="8.6" rx="4.3"/><text class="b" x="1694.3" y="584">Jessheim</text></g>
<g id="n-kongsvinger"><rect class="n" x="1862.7" y="753" width="8.6" height="35" rx="4.3"/><text class="b e" transform="rotate(90 1867.7 748.6)" x="1867.7" y="748.6">Kongsvinger</text></g>
<g id="n-ski"><rect class="n" x="1254.7" y="1204.7" width="165.6" height="9" rx="4.5"/><text class="b e" x="1250" y="1209">Ski</text></g>
<g id="n-moss"><rect class="n" x="1307.3" y="1313" width="95.4" height="9.3" rx="4.6"/><text class="b e" x="1303.3" y="1317.5">Moss</text></g>
<g id="n-fredrikstad"><rect class="n" x="1324.7" y="1391.7" width="43.3" height="8.6" rx="4.3"/><text class="b e" x="1321" y="1396">Fredrikstad</text></g>
<g id="n-sarpsborg"><rect class="n" x="1324.7" y="1426" width="43.3" height="9" rx="4.5"/><text class="b e" x="1316" y="1430">Sarpsborg</text></g>
<g id="n-halden"><rect class="n" x="1333.3" y="1456.7" width="34.7" height="8.6" rx="4.3"/><text class="b e" x="1328.3" y="1461">Halden</text></g>
<g id="n-mysen"><rect class="n" x="1506.7" y="1317.7" width="26.3" height="9" rx="4.5"/><text class="b" x="1536" y="1322">Mysen</text></g>
<g id="n-rakkestad"><rect class="n" x="1506.7" y="1378.3" width="18" height="9" rx="4.5"/><text class="b" x="1530" y="1383">Rakkestad</text></g>
</g>

<g id="legend">
<rect x="56" y="1065.3" width="348.3" height="446.7" fill="#fff" stroke="#111" stroke-width="2"/>
<text x="140.7" y="1091" style="font-size:28px;fill:#000;stroke:#000;stroke-width:.4">Tegnforklaring</text>
<text class="h" x="102.3" y="1128">Linjetyper og symboler</text>
<path class="k" d="M82 1152.7H135"/>
<path class="k" style="stroke-width:1.2;stroke-dasharray:4.5 2.6" d="M82 1170H135"/>
<path class="k" style="stroke-width:1.2;stroke-dasharray:4.5 2.6" d="M83 1187.3H118"/>
<path class="k" style="stroke-width:1.2;stroke-dasharray:4.5 2.6" d="M82 1204.7H120"/>
<g fill="#fff" stroke="#000"><use href="#a" transform="translate(123 1187.3)"/><use href="#a" transform="translate(129 1187.3)"/><use href="#a" transform="translate(135 1187.3)"/></g>
<g fill="#000"><use href="#a" transform="translate(123.5 1204.7)"/><use href="#a" transform="translate(128.5 1204.7)"/><use href="#a" transform="translate(133.5 1204.7)"/></g>
<path class="k" d="M82 1221.7H135M82 1230.7H135M82 1243H135M82 1252H135M82 1261H135M82 1269H135M82 1278H135M82 1287H135"/>
<rect x="104.3" y="1221.7" width="8.4" height="9"/><text class="t" transform="rotate(90 108.5 1226.2)" x="108.5" y="1226.2">30'</text>
<rect x="104.3" y="1243.7" width="8.4" height="17"/><text class="t" transform="rotate(90 108.5 1252.2)" x="108.5" y="1252.2">→30'</text>
<rect x="104.3" y="1269" width="8.4" height="18"/><text class="t" transform="rotate(90 108.5 1278)" x="108.5" y="1278">30'+</text>
<path class="k" d="M82 1305H135M82 1331H135M82 1357H135"/>
<rect class="n" x="104" y="1296" width="9.3" height="17.4" rx="4.6" style="stroke:#000"/>
<rect x="104" y="1322" width="9.3" height="17.4" rx="4.6" fill="none" stroke="#000" stroke-width="1.3"/>
<rect x="104" y="1348" width="9.3" height="17.4" rx="4.6" fill="none" stroke="#000" stroke-width="1.3"/>
<circle cx="108.6" cy="1357" r="1.7" fill="#fff" stroke="#000"/>
<path class="k" d="M82 1379H135M82 1396H135"/>
<circle cx="108.6" cy="1378.7" r="1.4" fill="#000"/>
<circle cx="108.6" cy="1396" r="1.7" fill="#fff" stroke="#000"/>
<text class="lg" x="145.7" y="1152">Én avgang per time og retning, fast avgangstid</text>
<text class="lg" x="145.7" y="1170">Én avgang per rushtime</text>
<text class="lg" x="145.7" y="1187">Retning morgenrush, pilene indikerer antall rushtimer</text>
<text class="lg" x="145.7" y="1204">Retning ettermiddagsrush, pilene indikerer antall rushtimer</text>
<text class="lg" x="145.7" y="1226">Fast avgangsintervall</text>
<text class="lg" x="145.7" y="1252">Fast avgangsintervall kun i pilens retning</text>
<text class="lg" x="145.7" y="1278">Fast avgangsintervall, i tillegg til ekstraavganger</text>
<text class="lg" x="145.7" y="1304">Node, alle avganger stopper</text>
<text class="lg" x="145.7" y="1330">Node, ingen avganger stopper</text>
<text class="lg" x="145.7" y="1356">Node, ikke alle avganger stopper</text>
<text class="lg" x="145.7" y="1378">Stoppested, alle avganger stopper</text>
<text class="lg" x="145.7" y="1395">Stoppested, ikke alle avganger stopper</text>
<text class="h" x="102" y="1430">Togkategorier</text>
<path class="w O" d="M82 1448H135"/><text class="lg" x="145.7" y="1448">Lokaltog (L)</text>
<path class="w B" d="M82 1465H135"/><text class="lg" x="145.7" y="1465">Regiontog (R)</text>
<path class="w P" d="M82 1482.7H135"/><text class="lg" x="145.7" y="1482">Region-ekspresstog (RE)</text>
</g>

<g id="logo">
<g transform="translate(1645 1490)" fill="none" stroke="#222" stroke-width="2.2">
<g id="lq"><path d="M-14 -37Q-6 -27 -4 -19M14 -37Q6 -27 4 -19"/><path d="M-24 -29Q-12 -20 -10 -10V10Q-12 20 -24 29"/><path d="M0 -19V19"/><path d="M-18 -25Q0 -14 18 -25"/></g>
<use href="#lq" transform="rotate(90)"/>
<use href="#lq" transform="rotate(180)"/>
<use href="#lq" transform="rotate(270)"/>
</g>
<text x="1705" y="1485" style="font-family:'Liberation Serif',serif;font-size:33px;fill:#222;stroke:#222;stroke-width:.6;dominant-baseline:auto" textLength="140" lengthAdjust="spacingAndGlyphs">Jernbane-</text>
<text x="1705" y="1514" style="font-family:'Liberation Serif',serif;font-size:33px;fill:#222;stroke:#222;stroke-width:.6;dominant-baseline:auto" textLength="165" lengthAdjust="spacingAndGlyphs">direktoratet</text>
</g>
</svg>
